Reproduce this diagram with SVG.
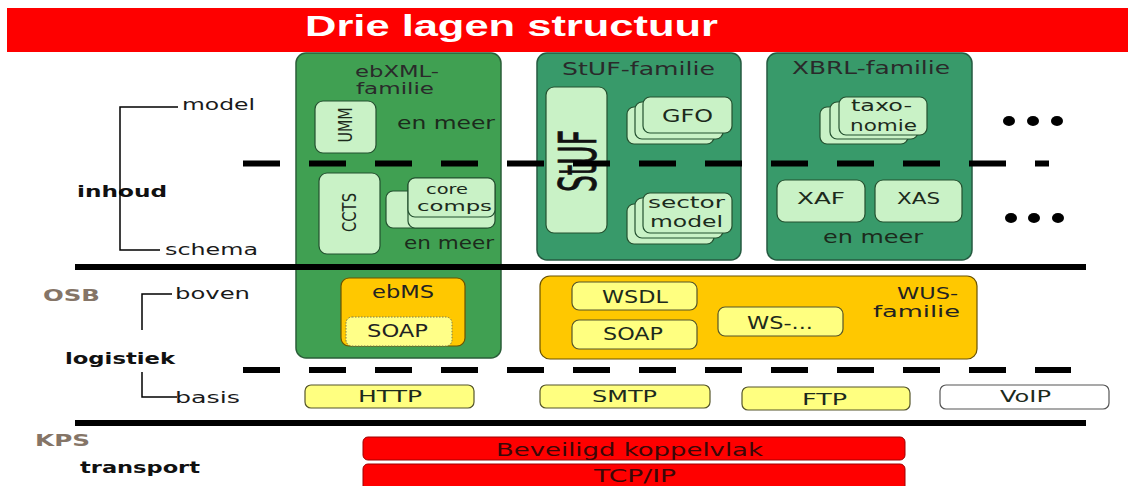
<svg xmlns="http://www.w3.org/2000/svg" width="1130" height="486" viewBox="0 0 1130 486">
<style>
text{font-family:"DejaVu Sans","Liberation Sans",sans-serif;fill:#1a1a1a}
.t{font-size:16px}
.b{font-size:16px;font-weight:bold;fill:#111}
.tag{font-size:15px;font-weight:bold;fill:#857567}
.bx{font-size:17px;fill:#1c2a1c}
.gr1{fill:#40a052;stroke:#2a5e38;stroke-width:1.5}
.gr2{fill:#389a6a;stroke:#245a40;stroke-width:1.5}
.card{fill:#c9f2c6;stroke:#23502f;stroke-width:1.2}
.or{fill:#ffc800;stroke:#6a5200;stroke-width:1.2}
.ye{fill:#ffff80;stroke:#55552a;stroke-width:1.2}
.red{fill:#ff0000;stroke:#a00000;stroke-width:1}
.thick{stroke:#000;stroke-width:6;fill:none}
.dash{stroke:#000;stroke-width:6;stroke-dasharray:37 29;fill:none}
.thin{stroke:#000;stroke-width:1.5;fill:none}
</style>

<g id="title">
<rect x="7" y="8" width="1121" height="44" fill="#fe0000"/>
<text x="305" y="36" textLength="413" lengthAdjust="spacingAndGlyphs" style="font-family:'Liberation Sans',Arial,sans-serif;font-size:29px;font-weight:bold;fill:#fff">Drie lagen structuur</text>
</g>

<g id="labels">
<text class="t" x="182" y="110" textLength="73" lengthAdjust="spacingAndGlyphs">model</text>
<text class="b" x="77" y="197" textLength="90" lengthAdjust="spacingAndGlyphs">inhoud</text>
<text class="t" x="165" y="255" textLength="93" lengthAdjust="spacingAndGlyphs">schema</text>
<text class="tag" x="43" y="301" textLength="57" lengthAdjust="spacingAndGlyphs">OSB</text>
<text class="t" x="175" y="299" textLength="75" lengthAdjust="spacingAndGlyphs">boven</text>
<text class="b" x="65" y="364" textLength="110" lengthAdjust="spacingAndGlyphs">logistiek</text>
<text class="t" x="175" y="403" textLength="65" lengthAdjust="spacingAndGlyphs">basis</text>
<text class="tag" x="35" y="446" textLength="55" lengthAdjust="spacingAndGlyphs">KPS</text>
<text class="b" x="80" y="473" textLength="120" lengthAdjust="spacingAndGlyphs">transport</text>
</g>

<g id="ebxml">
<rect class="gr1" x="296" y="53" width="205" height="305" rx="10"/>
<text class="bx" x="355" y="77" textLength="84" lengthAdjust="spacingAndGlyphs" style="font-size:15px;fill:#2a2a2a">ebXML-</text>
<text class="bx" x="356" y="94" textLength="78" lengthAdjust="spacingAndGlyphs" style="font-size:15px;fill:#2a2a2a">familie</text>
<rect class="card" x="315" y="101" width="61" height="52" rx="8"/>
<text class="bx" transform="translate(352,125) rotate(-90)" text-anchor="middle" textLength="35" lengthAdjust="spacingAndGlyphs" style="font-size:20px">UMM</text>
<text class="bx" x="397" y="128.5" textLength="98" lengthAdjust="spacingAndGlyphs">en meer</text>
<rect class="card" x="319" y="173" width="61" height="81" rx="8"/>
<text class="bx" transform="translate(356,212.5) rotate(-90)" text-anchor="middle" textLength="39" lengthAdjust="spacingAndGlyphs" style="font-size:19px">CCTS</text>
<rect class="card" x="386" y="191" width="107" height="37" rx="7"/>
<rect class="card" x="408" y="178" width="87" height="50" rx="7"/>
<rect class="card" x="408" y="178" width="87" height="39" rx="7"/>
<text class="bx" x="426" y="194" textLength="42" lengthAdjust="spacingAndGlyphs" style="font-size:14px">core</text>
<text class="bx" x="417" y="211" textLength="75" lengthAdjust="spacingAndGlyphs" style="font-size:14px">comps</text>
<text class="bx" x="404" y="249" textLength="90" lengthAdjust="spacingAndGlyphs">en meer</text>
</g>

<g id="ebms">
<rect class="or" x="341" y="278" width="124" height="68" rx="8"/>
<text class="bx" x="372" y="297.5" textLength="62" lengthAdjust="spacingAndGlyphs" style="fill:#222">ebMS</text>
<rect x="346" y="317" width="106" height="29" rx="6" fill="#ffff88" stroke="#7a7a50" stroke-width="1" stroke-dasharray="1.5 1.5"/>
<text class="bx" x="367" y="337" textLength="61" lengthAdjust="spacingAndGlyphs" style="fill:#222">SOAP</text>
</g>

<g id="stuf">
<rect class="gr2" x="537" y="53" width="204" height="207" rx="10"/>
<text class="bx" x="562" y="74.5" textLength="153" lengthAdjust="spacingAndGlyphs" style="fill:#2a2a2a">StUF-familie</text>
<rect class="card" x="546" y="87" width="61" height="146" rx="8"/>
<text class="bx" transform="translate(596,161) rotate(-90)" text-anchor="middle" textLength="62" lengthAdjust="spacingAndGlyphs" style="font-size:52px;fill:#111;stroke:#111;stroke-width:0.8">StUF</text>
<rect class="card" x="627" y="107" width="87" height="37" rx="7"/>
<rect class="card" x="635" y="102" width="88" height="37" rx="7"/>
<rect class="card" x="643" y="97" width="89" height="36" rx="7"/>
<text class="bx" x="662" y="121.7" textLength="51" lengthAdjust="spacingAndGlyphs">GFO</text>
<rect class="card" x="627" y="204" width="87" height="40" rx="7"/>
<rect class="card" x="635" y="198" width="88" height="40" rx="7"/>
<rect class="card" x="643" y="193" width="89" height="40" rx="7"/>
<text class="bx" x="648" y="208" textLength="77" lengthAdjust="spacingAndGlyphs" style="font-size:16px">sector</text>
<text class="bx" x="650" y="227" textLength="73" lengthAdjust="spacingAndGlyphs" style="font-size:16px">model</text>
</g>

<g id="xbrl">
<rect class="gr2" x="767" y="53" width="205" height="207" rx="10"/>
<text class="bx" x="792" y="73.5" textLength="158" lengthAdjust="spacingAndGlyphs" style="fill:#2a2a2a">XBRL-familie</text>
<rect class="card" x="820" y="107" width="88" height="37" rx="7"/>
<rect class="card" x="830" y="102" width="88" height="37" rx="7"/>
<rect class="card" x="839" y="97" width="88" height="38" rx="7"/>
<text class="bx" x="851" y="111" textLength="61" lengthAdjust="spacingAndGlyphs" style="font-size:16px">taxo-</text>
<text class="bx" x="850" y="131" textLength="67" lengthAdjust="spacingAndGlyphs" style="font-size:16px">nomie</text>
<rect class="card" x="777" y="180" width="88" height="42" rx="8"/>
<text class="bx" x="797" y="204" textLength="48" lengthAdjust="spacingAndGlyphs" style="font-size:16px">XAF</text>
<rect class="card" x="875" y="180" width="87" height="42" rx="8"/>
<text class="bx" x="897" y="204" textLength="43" lengthAdjust="spacingAndGlyphs" style="font-size:16px">XAS</text>
<text class="bx" x="823" y="243" textLength="100" lengthAdjust="spacingAndGlyphs">en meer</text>
</g>

<g id="more">
<ellipse cx="1009" cy="121" rx="6" ry="5" fill="#000"/>
<ellipse cx="1033" cy="121" rx="6" ry="5" fill="#000"/>
<ellipse cx="1057" cy="121" rx="6" ry="5" fill="#000"/>
<ellipse cx="1011" cy="218" rx="6" ry="5" fill="#000"/>
<ellipse cx="1034" cy="218" rx="6" ry="5" fill="#000"/>
<ellipse cx="1058" cy="218" rx="6" ry="5" fill="#000"/>
</g>

<g id="wus">
<rect class="or" x="540" y="276" width="437" height="83" rx="10"/>
<rect class="ye" x="572" y="282" width="125" height="28" rx="7"/>
<text class="bx" x="602" y="302.5" textLength="66" lengthAdjust="spacingAndGlyphs">WSDL</text>
<rect class="ye" x="572" y="320" width="125" height="29" rx="7"/>
<text class="bx" x="603" y="340" textLength="60" lengthAdjust="spacingAndGlyphs">SOAP</text>
<rect class="ye" x="718" y="307" width="125" height="29" rx="7"/>
<text class="bx" x="747" y="329" textLength="66" lengthAdjust="spacingAndGlyphs">WS-...</text>
<text class="bx" x="897" y="299" textLength="61" lengthAdjust="spacingAndGlyphs" style="font-size:16px;fill:#222">WUS-</text>
<text class="bx" x="873" y="316.5" textLength="87" lengthAdjust="spacingAndGlyphs" style="font-size:16px;fill:#222">familie</text>
</g>

<g id="http">
<rect class="ye" x="305" y="385" width="169" height="23" rx="6"/>
<text class="bx" x="358" y="402" textLength="64" lengthAdjust="spacingAndGlyphs" style="font-size:16px">HTTP</text>
</g>
<g id="smtp">
<rect class="ye" x="540" y="385" width="170" height="23" rx="6"/>
<text class="bx" x="592" y="401.5" textLength="65" lengthAdjust="spacingAndGlyphs" style="font-size:16px">SMTP</text>
</g>
<g id="ftp">
<rect class="ye" x="742" y="387" width="168" height="23" rx="6"/>
<text class="bx" x="802" y="405" textLength="45" lengthAdjust="spacingAndGlyphs" style="font-size:16px">FTP</text>
</g>
<g id="voip">
<rect x="940" y="385" width="169" height="24" rx="6" fill="#fff" stroke="#555" stroke-width="1.2"/>
<text class="bx" x="1000" y="401.5" textLength="51" lengthAdjust="spacingAndGlyphs" style="font-size:16px">VoIP</text>
</g>

<g id="koppelvlak">
<rect class="red" x="363" y="437" width="542" height="23" rx="5"/>
<text x="496" y="456" textLength="267" lengthAdjust="spacingAndGlyphs" style="font-size:18px;fill:#3a0808">Beveiligd koppelvlak</text>
</g>
<g id="tcpip">
<rect class="red" x="363" y="464" width="542" height="28" rx="5"/>
<text x="594" y="482" textLength="82" lengthAdjust="spacingAndGlyphs" style="font-size:18px;fill:#3a0808">TCP/IP</text>
</g>

<g id="connectors">
<path class="thin" d="M178 107 H120 V250 H160"/>
<path class="thin" d="M172 294 H142 V330"/>
<path class="thin" d="M142 372 V397 H177"/>
<line class="thick" x1="75" y1="267" x2="1086" y2="267"/>
<line class="thick" x1="75" y1="423" x2="1086" y2="423"/>
<line class="dash" x1="243" y1="163.5" x2="1049" y2="163.5"/>
<line class="dash" x1="243" y1="370" x2="1071" y2="370"/>
</g>
</svg>
